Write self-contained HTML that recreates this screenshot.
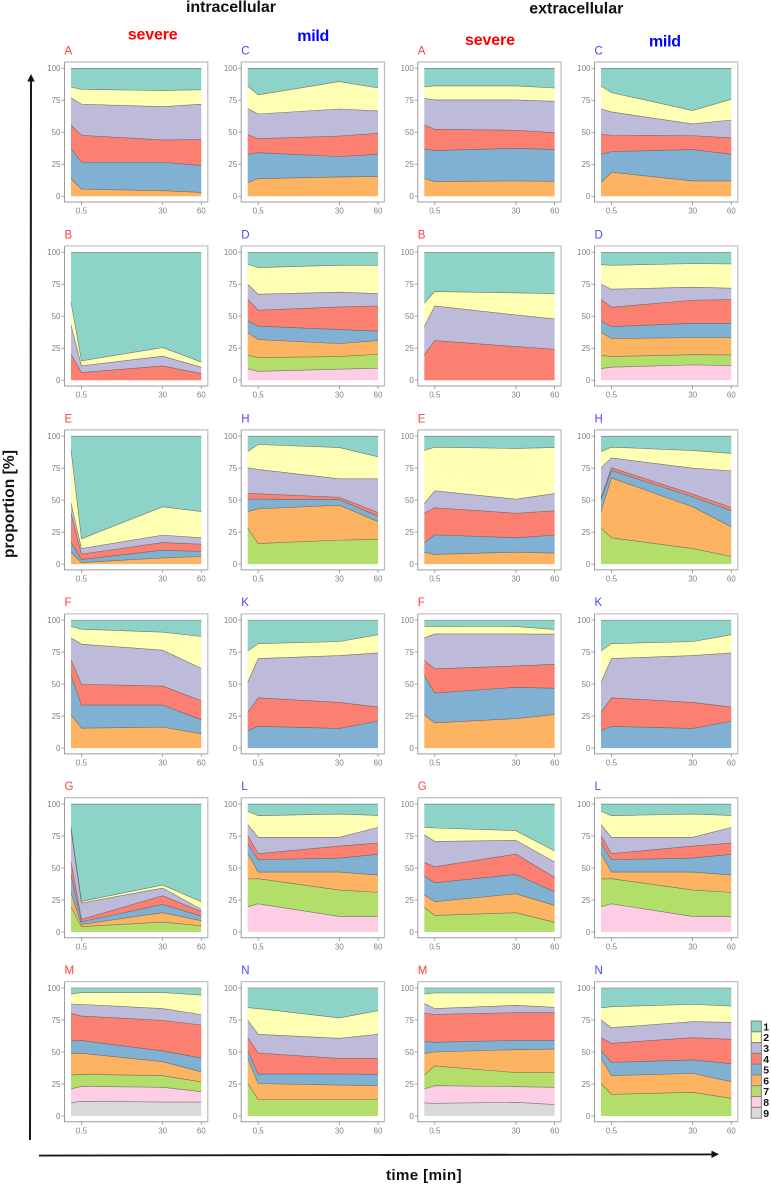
<!DOCTYPE html>
<html lang="en">
<head>
<meta charset="utf-8">
<title>Proportion over time, intracellular and extracellular</title>
<style>
html,body{margin:0;padding:0;background:#fff;}
body{width:771px;height:1185px;overflow:hidden;}
svg{display:block;font-family:"Liberation Sans",sans-serif;filter:blur(0.3px);}
</style>
</head>
<body>
<svg id="chart" xmlns="http://www.w3.org/2000/svg" width="771" height="1185" viewBox="0 0 771 1185">
  <rect x="0" y="0" width="771" height="1185" fill="#fff"/>
  <text x="186" y="12" font-size="16" font-weight="bold" fill="#111" textLength="90" lengthAdjust="spacing">intracellular</text>
  <text x="529.3" y="13.5" font-size="16" font-weight="bold" fill="#111" textLength="94" lengthAdjust="spacing">extracellular</text>
  <text x="127.7" y="39.5" font-size="16" font-weight="bold" fill="#ff0000" textLength="50" lengthAdjust="spacing">severe</text>
  <text x="297.3" y="41" font-size="16" font-weight="bold" fill="#0000ff" textLength="32" lengthAdjust="spacing">mild</text>
  <text x="465" y="45" font-size="16" font-weight="bold" fill="#ff0000" textLength="50" lengthAdjust="spacing">severe</text>
  <text x="649" y="46.5" font-size="16" font-weight="bold" fill="#0000ff" textLength="32" lengthAdjust="spacing">mild</text>
  <g id="panels"></g>
  <g id="legend"></g>
  <g>
    <line x1="30" y1="1140" x2="31" y2="80" stroke="#1a1a1a" stroke-width="2"/>
    <polygon points="31,74 27.3,81.5 34.7,81.5" fill="#111"/>
  </g>
  <g>
    <line x1="39" y1="1155.6" x2="713" y2="1154.4" stroke="#1a1a1a" stroke-width="1.9"/>
    <polygon points="719,1154.3 711.5,1150.6 711.5,1158" fill="#111"/>
  </g>
  <text transform="translate(13.8,558) rotate(-90)" font-size="15.5" font-weight="bold" fill="#111" textLength="108" lengthAdjust="spacing">proportion [%]</text>
  <text x="386" y="1180" font-size="15.2" font-weight="bold" fill="#111" textLength="75.5" lengthAdjust="spacing">time [min]</text>
</svg>
<script>
const times = [0, 0.5, 30, 60];
const xTickLabels = [0.5, 30, 60];
const yTickLabels = [0, 25, 50, 75, 100];
const legendLabels = ['1', '2', '3', '4', '5', '6', '7', '8', '9'];
const panelLetters = [
  ['A', 'C', 'A', 'C'],
  ['B', 'D', 'B', 'D'],
  ['E', 'H', 'E', 'H'],
  ['F', 'K', 'F', 'K'],
  ['G', 'L', 'G', 'L'],
  ['M', 'N', 'M', 'N']
];

/* Each array: cumulative top of series 1, 2, 3 ... at each of the four times. */
const intraA = [[100,100,100,100],[85.2,83.6,82.6,83.3],[77,72,70,72],[55.7,47.7,44,44.3],[37.2,26.6,26.6,24],[13.8,5.5,4.4,3]];
const intraC = [[100,100,100,100],[86.2,79.2,89.6,84.6],[68.5,64.3,68.2,66.7],[48.2,45,47.1,49.2],[32.8,34.1,31,32.8],[10.7,13.8,15.1,15.4]];
const extraA = [[100,100,100,100],[85.4,86.2,86.2,84.6],[76.6,75.3,75.3,74.2],[55.7,52.3,51.6,49.7],[37,35.7,37.5,36.5],[13.8,11.5,12,11.7]];
const extraC = [[100,100,100,100],[86.2,81,67,75.8],[68.2,65.9,56.5,59.6],[48.2,47.7,47.4,45.6],[32.8,34.9,36.5,32.8],[10.7,18.8,12,12]];

const intraB = [[100,100,100,100],[60.9,15.1,25.5,14.3],[43.2,11.2,18.8,10.2],[20.3,6,11.2,5.2]];
const intraD = [[100,100,100,100],[90.6,88,89.8,89.8],[75,67.2,68.8,67.7],[63.3,54.7,57.3,58],[46.4,42.2,39.6,38.3],[37.2,31.8,28.6,31],[19.5,17.7,18.5,20.3],[8.9,7,8.6,9.4]];
const extraB = [[100,100,100,100],[60.2,69.3,68.2,67.7],[41.9,58,51,47.9],[19.8,31,26.3,24.2]];
const extraD = [[100,100,100,100],[90.4,89.8,91.1,90.9],[75,71.1,72.7,71.9],[63.3,57,62.5,63],[46.4,41.9,44.5,44.5],[37.5,32.6,33.3,33.3],[19.5,18.5,20,19.8],[9.1,10.2,12,11.5]];

const intraE = [[100,100,100,100],[89.3,19.8,44.8,41.1],[47.7,12.2,22.7,20.6],[39.8,7.8,16.9,15.6],[16.9,3.6,10.9,9.9],[9.6,1.3,4.9,6]];
const intraH = [[100,100,100,100],[88,93.5,91.1,83.9],[75.3,74,66.7,66.7],[55.2,55,52.3,40.4],[50.8,50.8,50.5,37.5],[41.1,43.2,46.1,33.3],[28.1,16.1,18.8,19.3]];
const extraE = [[100,100,100,100],[88.8,91.4,90.4,91.1],[47.4,57.3,50.8,55.2],[39.8,44,39.8,41.7],[16.7,22.9,20.6,22.7],[9.4,7.6,9.4,8.6]];
const extraH = [[100,100,100,100],[88,91.4,88.8,86.5],[75.3,83,75,72.9],[51.8,75.3,54.7,44.3],[50.3,73.2,52.6,41.7],[41.1,67.4,44.8,29.2],[28.1,20.6,12.2,6]];

const intraF = [[100,100,100,100],[95,92.9,90.6,87.2],[86.1,81.2,76.5,62.3],[68.9,49.8,48.5,37],[57,33.6,33.6,22.1],[26,15.6,16.4,11.2]];
const intraK = [[100,100,100,100],[75.9,81.6,83.2,88.6],[51.4,70,72.3,74.4],[27.9,39.3,35.7,32.1],[13.8,17,15.4,21.1]];
const extraF = [[100,100,100,100],[95,95.3,95,92.7],[86.1,89.2,89.2,89],[68.4,62,64.2,65.5],[56.6,43,47.5,46.7],[26,19.8,23,26.3]];
const extraK = [[100,100,100,100],[75.9,81.6,83.2,88.6],[51.4,70,72.3,74.4],[27.9,39.3,35.7,32.1],[13.8,17,15.4,21.1]];

const intraG = [[100,100,100,100],[81.8,24,36.7,23.7],[80,22.7,34.4,17.7],[54.9,9.9,28.4,15.9],[44.5,8,21.6,12.5],[30.2,6,15.1,8.9],[19.8,4.2,7.8,4.9]];
const intraL = [[100,100,100,100],[94.3,90.9,92.2,91.1],[84.1,74,74,81.8],[75.3,61.2,67.2,69.5],[69.3,56.5,57.8,60.7],[61.5,46.9,46.9,44.5],[41.4,41.7,32.8,31],[19.8,22.1,12.2,12.2]];
const extraG = [[100,100,100,100],[81.8,81.3,79.2,63.3],[76,70.8,71.6,54.7],[54.4,51,60.9,42.7],[43.8,38.5,45,31.5],[28.9,23.7,29.9,20.8],[19.3,13,15.1,7.6]];
const extraL = [[100,100,100,100],[94.3,90.9,92.2,91.1],[84.1,74,74,81.8],[75.3,61.2,67.2,69.5],[69.3,56.5,57.8,60.7],[61.5,46.9,46.9,44.5],[41.4,41.7,32.8,31],[19.8,22.1,12.2,12.2]];

const intraM = [[100,100,100,100],[95.3,96.4,96.4,94.5],[87.5,87.2,83.9,79.2],[80.2,78.1,74.7,71.1],[58.6,58.9,50.8,45.3],[49,49,42.4,34.4],[32,32.6,31.5,26.6],[21.1,23.2,22.4,19],[10.4,11.5,10.9,10.9]];
const intraN = [[100,100,100,100],[84.6,83.9,76.6,82.3],[75,63.8,60.7,63.8],[61.2,49.2,45,45],[50.8,32.8,32.8,32.6],[45,25.3,24.2,23.7],[25.5,12.8,12.8,12.8]];
const extraM = [[100,100,100,100],[95.3,96.1,96.1,96.1],[88,83.9,86.5,84.9],[80.2,79.4,80.7,80.7],[58.3,57.6,59.1,59.1],[49,50,51.8,52.3],[32,39.1,33.9,33.9],[21.1,23.7,22.9,22.4],[10.2,9.9,10.7,8.9]];
const extraN = [[100,100,100,100],[84.4,85.4,87.2,85.9],[75,69,73.7,73.2],[61.2,56.8,61.2,59.9],[50.8,41.9,43.8,40.9],[45,31.5,33.3,26.8],[25.5,16.9,18.5,13.8]];

const panelGrid = [
  [intraA, intraC, extraA, extraC],
  [intraB, intraD, extraB, extraD],
  [intraE, intraH, extraE, extraH],
  [intraF, intraK, extraF, extraK],
  [intraG, intraL, extraG, extraL],
  [intraM, intraN, extraM, extraN]
];

const seriesColors = ['#8DD3C7', '#FFFFB3', '#BEBADA', '#FB8072', '#80B1D3', '#FDB462', '#B3DE69', '#FCCDE5', '#D9D9D9'];
const columnLabelColors = ['#ff3d3d', '#4545ff', '#ff3d3d', '#4545ff'];

const SVG_NS = 'http://www.w3.org/2000/svg';
const PLOT_WIDTH = 130.3;
const PLOT_HEIGHT = 128;
const COLUMN_PLOT_LEFT = function (col) {
  return [71, 247.7, 424.3, 601][col];
};
const ROW_PLOT_TOP = function (row) {
  return 68.3 + 183.94 * row;
};

function xScale(t, left) {
  const warp = function (v) { return Math.sqrt(v + 0.01) - Math.sqrt(0.01); };
  const max = times[times.length - 1];
  return left + warp(t) / warp(max) * PLOT_WIDTH;
}

function yScale(v, top) {
  return top + (100 - v) / 100 * PLOT_HEIGHT;
}

function make(tag, parent, attrs, text) {
  const node = document.createElementNS(SVG_NS, tag);
  Object.keys(attrs).forEach(function (k) { node.setAttribute(k, attrs[k]); });
  if (text !== undefined) node.textContent = text;
  parent.appendChild(node);
  return node;
}

function fmt(n) {
  return n.toFixed(2);
}

function drawPanel(root, tops, letter, row, col) {
  const left = COLUMN_PLOT_LEFT(col);
  const top = ROW_PLOT_TOP(row);
  const frameLeft = left - 6.5;
  const frameRight = left + PLOT_WIDTH + 6.5;
  const frameTop = top - 6.3;
  const frameBottom = top + PLOT_HEIGHT + 5.7;
  const tag = letter.toLowerCase() + '-col' + (col + 1);

  const group = make('g', root, {});
  
  

  const title = make('text', group, {
    x: frameLeft, y: frameTop - 7.6, 'font-size': 11.5, fill: columnLabelColors[col]
  }, letter);
  
  

  const frame = make('path', group, {
    d: 'M' + frameLeft + ' ' + frameTop + 'H' + frameRight + 'V' + frameBottom,
    fill: 'none', stroke: '#bdbdbd', 'stroke-width': 1.2
  });
  
  

  const axisLines = make('path', group, {
    d: 'M' + frameLeft + ' ' + frameTop + 'V' + frameBottom + 'H' + frameRight,
    fill: 'none', stroke: '#9c9c9c', 'stroke-width': 1
  });
  
  

  tops.forEach(function (layer, i) {
    const lower = tops[i + 1];
    const upper = times.map(function (t, j) {
      return fmt(xScale(t, left)) + ',' + fmt(yScale(layer[j], top));
    });
    const bottom = times.map(function (t, j) {
      return fmt(xScale(t, left)) + ',' + fmt(yScale(lower ? lower[j] : 0, top));
    }).reverse();
    const area = make('polygon', group, {
      points: upper.concat(bottom).join(' '),
      fill: seriesColors[i]
    });
    
    
  });

  tops.forEach(function (layer, i) {
    const upper = times.map(function (t, j) {
      return fmt(xScale(t, left)) + ',' + fmt(yScale(layer[j], top));
    });
    const outline = make('polyline', group, {
      points: upper.join(' '),
      fill: 'none', stroke: '#555', 'stroke-opacity': 0.8, 'stroke-width': 0.6
    });
    
    
  });

  yTickLabels.forEach(function (v) {
    const y = yScale(v, top);
    const tick = make('line', group, {
      x1: frameLeft - 3, x2: frameLeft, y1: y, y2: y, stroke: '#8c8c8c', 'stroke-width': 0.8
    });
    
    
    const label = make('text', group, {
      x: frameLeft - 4, y: y + 2.9, 'font-size': 8, fill: '#808080', 'text-anchor': 'end'
    }, v);
    
    
  });

  xTickLabels.forEach(function (v) {
    const x = xScale(v, left);
    const tick = make('line', group, {
      x1: x, x2: x, y1: frameBottom, y2: frameBottom + 3, stroke: '#8c8c8c', 'stroke-width': 0.8
    });
    
    
    const label = make('text', group, {
      x: x, y: frameBottom + 11.6, 'font-size': 8, fill: '#808080', 'text-anchor': 'middle'
    }, v);
    
    
  });
}

const panelRoot = document.getElementById('panels');
panelGrid.forEach(function (rowPanels, row) {
  rowPanels.forEach(function (tops, col) {
    drawPanel(panelRoot, tops, panelLetters[row][col], row, col);
  });
});

const legendRoot = document.getElementById('legend');
legendLabels.forEach(function (label, i) {
  const keyTop = 1021 + i * 10.8;
  const key = make('rect', legendRoot, {
    x: 751.2, y: keyTop, width: 10.2, height: 10.8,
    fill: seriesColors[i], stroke: '#858585', 'stroke-width': 1
  });
  
  
  const text = make('text', legendRoot, {
    x: 763.2, y: keyTop + 9.4, 'font-size': 10.5, 'font-weight': 'bold', fill: '#111'
  }, label);
  
  
});
</script>
</body>
</html>
